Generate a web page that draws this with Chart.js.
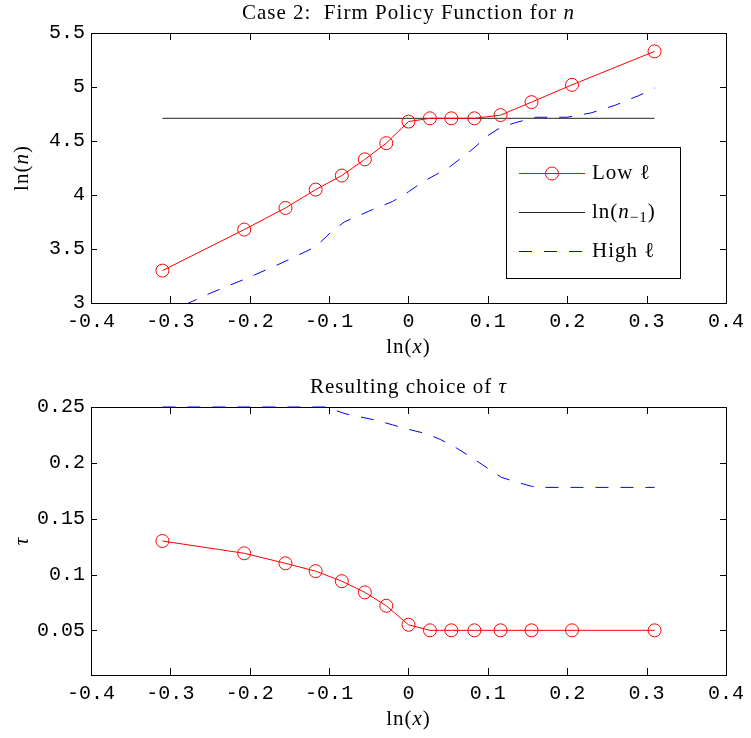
<!DOCTYPE html>
<html>
<head>
<meta charset="utf-8">
<script src="https://cdn.jsdelivr.net/npm/chart.js@4.4.0/dist/chart.umd.min.js"></script>
<style>
    body { margin: 0; background: #fff; }
    canvas { display: block; }
</style>
</head>
<body>
<canvas id="topChart" width="751" height="370"></canvas>
<canvas id="bottomChart" width="751" height="368"></canvas>
<script>
// tick values and labels
const xTickValues = [-0.4, -0.3, -0.2, -0.1, 0, 0.1, 0.2, 0.3, 0.4];
const xTickLabels = ["-0.4", "-0.3", "-0.2", "-0.1", "0", "0.1", "0.2", "0.3", "0.4"];
const nTickValues = [3, 3.5, 4, 4.5, 5, 5.5];
const nTickLabels = ["3", "3.5", "4", "4.5", "5", "5.5"];
const tauTickValues = [0.05, 0.1, 0.15, 0.2, 0.25];
const tauTickLabels = ["0.05", "0.1", "0.15", "0.2", "0.25"];

// Low l (circles), same grid in both panels
const lowX = [-0.31, -0.207, -0.155, -0.117, -0.084, -0.055, -0.028, 0, 0.027, 0.054, 0.083, 0.116, 0.155, 0.206, 0.31];
const lowN = [3.30, 3.68, 3.88, 4.05, 4.18, 4.33, 4.48, 4.68, 4.71, 4.71, 4.71, 4.74, 4.86, 5.02, 5.33];
const lowTau = [0.130, 0.119, 0.110, 0.103, 0.094, 0.084, 0.072, 0.055, 0.050, 0.050, 0.050, 0.050, 0.050, 0.050, 0.050];

// ln(n_-1)
const lagX = [-0.31, 0.31];
const lagN = [4.71, 4.71];

// High l (dashed)
const highNX = [-0.31, -0.283, -0.25, -0.2, -0.16, -0.117, -0.1, -0.081, -0.05, -0.02, 0, 0.02, 0.05, 0.08, 0.1, 0.117, 0.135, 0.16, 0.2, 0.23, 0.26, 0.29, 0.31];
const highN = [2.88, 2.98, 3.09, 3.24, 3.37, 3.52, 3.64, 3.75, 3.85, 3.94, 4.03, 4.13, 4.25, 4.42, 4.55, 4.63, 4.67, 4.72, 4.72, 4.76, 4.83, 4.92, 4.99];
const highTauX = [-0.31, -0.2, -0.117, -0.104, -0.08, -0.06, -0.04, -0.02, 0, 0.02, 0.04, 0.06, 0.08, 0.1, 0.117, 0.135, 0.155, 0.165, 0.2, 0.31];
const highTau = [0.25, 0.25, 0.25, 0.25, 0.244, 0.241, 0.238, 0.234, 0.230, 0.2265, 0.221, 0.2135, 0.2045, 0.195, 0.187, 0.183, 0.179, 0.178, 0.178, 0.178];

const SERIF = '"Liberation Serif", "DejaVu Serif", serif';
const MONO = '"Liberation Mono", "DejaVu Sans Mono", monospace';

function pts(xs, ys) {
    return xs.map((x, i) => ({ x: x, y: ys[i] }));
}

function fontFor(p, size) {
    const s = p.sub ? Math.round(size * 0.7) : size;
    return (p.it ? "italic " : "") + s + "px " + SERIF;
}

// draws text made of several runs (italic, subscript)
function drawParts(ctx, parts, x, y, size, align) {
    ctx.letterSpacing = "1px";
    let total = 0;
    const widths = parts.map(p => {
        ctx.font = fontFor(p, size);
        const w = ctx.measureText(p.t).width;
        total += w;
        return w;
    });
    let cx = align === "center" ? x - total / 2 : x;
    ctx.textAlign = "left";
    ctx.textBaseline = "middle";
    parts.forEach((p, i) => {
        ctx.font = fontFor(p, size);
        ctx.fillText(p.t, cx, y + (p.sub ? size * 0.3 : 0));
        cx += widths[i];
    });
    ctx.letterSpacing = "0px";
}

const framePlugin = {
    id: "frame",
    // axes box and inward ticks, under the data like the original
    beforeDatasetsDraw(chart) {
        const ctx = chart.ctx;
        const a = chart.chartArea;
        const xs = chart.scales.x;
        const ys = chart.scales.y;
        ctx.save();
        ctx.strokeStyle = "#000";
        ctx.lineWidth = 1;
        ctx.beginPath();
        xs.ticks.forEach(t => {
            const px = Math.round(xs.getPixelForValue(t.value)) + 0.5;
            ctx.moveTo(px, a.bottom);
            ctx.lineTo(px, a.bottom - 7);
            ctx.moveTo(px, a.top);
            ctx.lineTo(px, a.top + 7);
        });
        ys.ticks.forEach(t => {
            const py = Math.round(ys.getPixelForValue(t.value)) + 0.5;
            ctx.moveTo(a.left, py);
            ctx.lineTo(a.left + 6, py);
            ctx.moveTo(a.right, py);
            ctx.lineTo(a.right - 6, py);
        });
        ctx.stroke();
        ctx.strokeRect(Math.round(a.left) + 0.5, Math.round(a.top) + 0.5,
            Math.round(a.right - a.left), Math.round(a.bottom - a.top));
        ctx.restore();
    },
    afterDraw(chart, args, opts) {
        const ctx = chart.ctx;
        const a = chart.chartArea;
        ctx.save();
        ctx.lineWidth = 1;

        // legend box with line samples
        if (opts.legendBox) {
            const b = opts.legendBox;
            ctx.fillStyle = "#fff";
            ctx.fillRect(b.x, b.y, b.w, b.h);
            ctx.strokeStyle = "#000";
            ctx.strokeRect(b.x + 0.5, b.y + 0.5, b.w, b.h);
            chart.data.datasets.forEach((ds, i) => {
                const ry = b.y + 26 + i * 39;
                ctx.save();
                ctx.strokeStyle = ds.borderColor;
                ctx.lineWidth = ds.borderWidth;
                ctx.setLineDash(ds.borderDash || []);
                ctx.beginPath();
                ctx.moveTo(b.x + 13, ry + 0.5);
                ctx.lineTo(b.x + 79, ry + 0.5);
                ctx.stroke();
                if (ds.pointRadius > 0) {
                    ctx.setLineDash([]);
                    ctx.beginPath();
                    ctx.arc(b.x + 46, ry + 0.5, ds.pointRadius, 0, Math.PI * 2);
                    ctx.stroke();
                }
                ctx.restore();
                ctx.fillStyle = "#000";
                drawParts(ctx, ds.labelParts, b.x + 86, ry, 21, "left");
            });
        }

        // title and axis labels
        ctx.fillStyle = "#000";
        const cx = (a.left + a.right) / 2;
        drawParts(ctx, opts.title, cx, a.top - 20, 21, "center");
        drawParts(ctx, opts.xLabel, cx, a.bottom + 44, 21, "center");
        ctx.save();
        ctx.translate(22, (a.top + a.bottom) / 2);
        ctx.rotate(-Math.PI / 2);
        drawParts(ctx, opts.yLabel, 0, 0, 21, "center");
        ctx.restore();
        ctx.restore();
    }
};

function xScale(h) {
    return {
        type: "linear",
        min: -0.4,
        max: 0.4,
        afterBuildTicks: s => { s.ticks = xTickValues.map(v => ({ value: v })); },
        afterFit: s => { s.height = h; },
        grid: { display: false, drawTicks: false },
        border: { display: false },
        ticks: {
            padding: 7,
            color: "#000",
            autoSkip: false,
            maxRotation: 0,
            font: { family: MONO, size: 20 },
            callback: (v, i) => xTickLabels[i]
        }
    };
}

function yScale(min, max, values, labels) {
    return {
        type: "linear",
        min: min,
        max: max,
        afterBuildTicks: s => { s.ticks = values.map(v => ({ value: v })); },
        afterFit: s => { s.width = 91; },
        grid: { display: false, drawTicks: false },
        border: { display: false },
        ticks: {
            padding: 6,
            color: "#000",
            autoSkip: false,
            font: { family: MONO, size: 20 },
            callback: (v, i) => labels[i]
        }
    };
}

const circleStyle = {
    borderColor: "#ff0000",
    borderWidth: 1,
    pointStyle: "circle",
    pointRadius: 6.5,
    pointHoverRadius: 6.5,
    pointBorderColor: "#ff0000",
    pointBackgroundColor: "rgba(0,0,0,0)",
    pointBorderWidth: 1,
    tension: 0,
    fill: false
};

const dashStyle = {
    borderColor: "#0000ff",
    borderWidth: 1,
    borderDash: [13, 12],
    pointRadius: 0,
    tension: 0,
    fill: false
};

const baseOptions = {
    responsive: false,
    animation: false,
    devicePixelRatio: 1,
    events: []
};

new Chart(document.getElementById("topChart").getContext("2d"), {
    type: "line",
    data: {
        datasets: [
            Object.assign({
                data: pts(lowX, lowN),
                labelParts: [{ t: "Low ℓ" }]
            }, circleStyle),
            {
                data: pts(lagX, lagN),
                borderColor: "#222",
                borderWidth: 1,
                pointRadius: 0,
                fill: false,
                labelParts: [{ t: "ln(" }, { t: "n", it: true }, { t: "−1", sub: true }, { t: ")" }]
            },
            Object.assign({
                data: pts(highNX, highN),
                labelParts: [{ t: "High ℓ" }]
            }, dashStyle)
        ]
    },
    options: Object.assign({}, baseOptions, {
        layout: { padding: { top: 33, right: 23, left: 0, bottom: 0 } },
        scales: {
            x: xScale(67),
            y: yScale(3, 5.5, nTickValues, nTickLabels)
        },
        plugins: {
            legend: { display: false },
            tooltip: { enabled: false },
            frame: {
                title: [{ t: "Case 2:  Firm Policy Function for " }, { t: "n", it: true }],
                xLabel: [{ t: "ln(" }, { t: "x", it: true }, { t: ")" }],
                yLabel: [{ t: "ln(" }, { t: "n", it: true }, { t: ")" }],
                legendBox: { x: 506, y: 147, w: 174, h: 131 }
            }
        }
    }),
    plugins: [framePlugin]
});

new Chart(document.getElementById("bottomChart").getContext("2d"), {
    type: "line",
    data: {
        datasets: [
            Object.assign({ data: pts(lowX, lowTau) }, circleStyle),
            Object.assign({ data: pts(highTauX, highTau), clip: 2 }, dashStyle)
        ]
    },
    options: Object.assign({}, baseOptions, {
        layout: { padding: { top: 37, right: 23, left: 0, bottom: 0 } },
        scales: {
            x: xScale(63),
            y: yScale(0.01, 0.25, tauTickValues, tauTickLabels)
        },
        plugins: {
            legend: { display: false },
            tooltip: { enabled: false },
            frame: {
                title: [{ t: "Resulting choice of " }, { t: "τ", it: true }],
                xLabel: [{ t: "ln(" }, { t: "x", it: true }, { t: ")" }],
                yLabel: [{ t: "τ", it: true }]
            }
        }
    }),
    plugins: [framePlugin]
});
</script>
</body>
</html>
